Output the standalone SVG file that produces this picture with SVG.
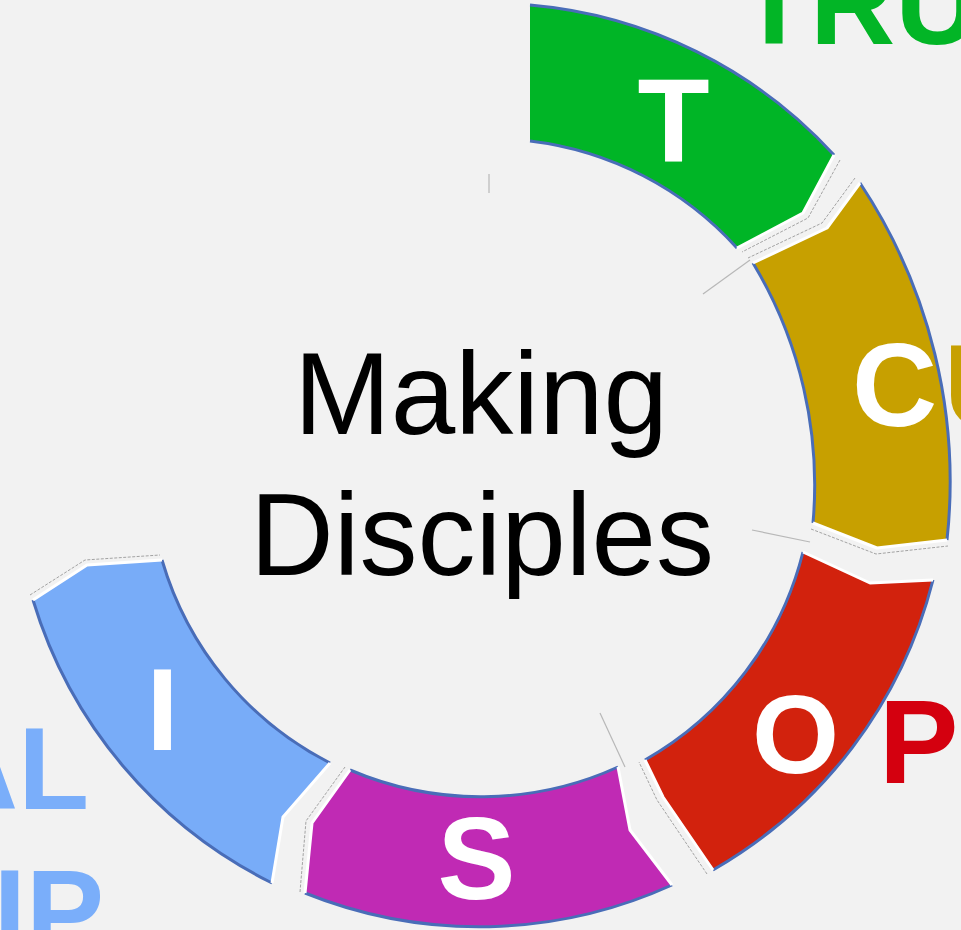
<svg xmlns="http://www.w3.org/2000/svg" width="961" height="930" viewBox="0 0 961 930">
<defs>
<style>
.rim{fill:none;stroke:#4a6db8;stroke-width:3}
.gap{fill:none;stroke:#ffffff;stroke-width:3;stroke-linejoin:round}
.gapl{fill:none;stroke:#9a9a9a;stroke-width:0.9;stroke-dasharray:3 1.5}
.let{font-family:"Liberation Sans",Arial,sans-serif;font-weight:bold;fill:#ffffff;text-anchor:middle}
.out{font-family:"Liberation Sans",Arial,sans-serif;font-weight:bold}
.ctr{font-family:"Liberation Sans",Arial,sans-serif;font-size:116px;fill:#000000;text-anchor:middle}
.stray{stroke:#b8b8b8;stroke-width:1.2;fill:none}
</style>
<filter id="soft" x="-5%" y="-5%" width="110%" height="110%"><feGaussianBlur stdDeviation="0.7"/></filter>
</defs>
<rect width="961" height="930" fill="#f2f2f2"/>

<g id="connectors">
<line class="stray" x1="489" y1="174" x2="489" y2="193"/>
<line class="stray" x1="703" y1="294" x2="750" y2="260"/>
<line class="stray" x1="752" y1="530" x2="810" y2="542"/>
<line class="stray" x1="600" y1="713" x2="625" y2="767"/>
</g>

<g id="seg-t">
<g filter="url(#soft)">
<path d="M530,5 A466,466 0 0 1 834,155 L803,213 L737,248 A332,332 0 0 0 530,141 Z" fill="#02b526"/>
<path class="rim" d="M530,5 A466,466 0 0 1 834,155"/>
<path class="rim" d="M737,248 A332,332 0 0 0 530,141"/>
<path class="gap" d="M834,155 L803,213 L737,248"/>
<path class="gapl" d="M840,160 L808,218 L742,252"/>
</g>
<text class="let" x="673.5" y="162" font-size="118">T</text>
</g>

<g id="seg-c">
<g filter="url(#soft)">
<path d="M860,183 L827,228 L753,263 A430,430 0 0 1 813,523 L877,548 L947,540 A540,540 0 0 0 860,183 Z" fill="#c7a002"/>
<path class="rim" d="M753,263 A430,430 0 0 1 813,523"/>
<path class="rim" d="M947,540 A540,540 0 0 0 860,183"/>
<path class="gap" d="M860,183 L827,228 L753,263"/>
<path class="gapl" d="M855,178 L822,223 L748,258"/>
<path class="gap" d="M813,523 L877,548 L947,540"/>
<path class="gapl" d="M811,529 L876,554 L948,546"/>
</g>
<text class="let" x="894.5" y="426" font-size="118">C</text>
</g>

<g id="seg-o">
<g filter="url(#soft)">
<path d="M803,552 L870,583 L933,580 A466,466 0 0 1 713,870 L663,797 L645,760 A332,332 0 0 0 803,552 Z" fill="#d2200e"/>
<path class="rim" d="M933,580 A466,466 0 0 1 713,870"/>
<path class="rim" d="M645,760 A332,332 0 0 0 803,552"/>
<path class="gap" d="M803,552 L870,583 L933,580"/>
<path class="gap" d="M713,870 L663,797 L645,760"/>
<path class="gapl" d="M707,874 L657,800 L639,762"/>
</g>
<text class="let" x="795.5" y="773" font-size="112">O</text>
</g>

<g id="seg-s">
<g filter="url(#soft)">
<path d="M618,767 L630,830 L672,885 A466,466 0 0 1 305,893 L312,823 L350,770 A332,332 0 0 0 618,767 Z" fill="#c02ab4"/>
<path class="rim" d="M672,885 A466,466 0 0 1 305,893"/>
<path class="rim" d="M350,770 A332,332 0 0 0 618,767"/>
<path class="gap" d="M618,767 L630,830 L672,885"/>
<path class="gap" d="M305,893 L312,823 L350,770"/>
<path class="gapl" d="M300,892 L306,821 L345,767"/>
</g>
<text class="let" x="476.5" y="899" font-size="117">S</text>
</g>

<g id="seg-i">
<g filter="url(#soft)">
<path d="M330,763 L283,817 L272,883 A466,466 0 0 1 33,600 L87,565 L162,560 A332,332 0 0 0 330,763 Z" fill="#78acf8"/>
<path class="rim" d="M272,883 A466,466 0 0 1 33,600"/>
<path class="rim" d="M162,560 A332,332 0 0 0 330,763"/>
<path class="gap" d="M330,763 L283,817 L272,883"/>
<path class="gap" d="M33,600 L87,565 L162,560"/>
<path class="gapl" d="M30,595 L85,560 L160,555"/>
</g>
<text class="let" x="162.5" y="750" font-size="117">I</text>
</g>

<g id="label-trust"><text class="out" x="738" y="44" font-size="118" fill="#02b526">TRU</text></g>
<g id="label-cu"><text class="out" x="944" y="426" font-size="117" fill="#c7a002">U</text></g>
<g id="label-op"><text class="out" x="879" y="783" font-size="119" fill="#d4000f">P</text></g>
<g id="label-al"><text class="out" x="89" y="809" font-size="116" fill="#7aaefa" text-anchor="end">AL</text></g>
<g id="label-ip"><text class="out" x="104" y="951" font-size="117" fill="#7aaefa" text-anchor="end">IP</text></g>

<g id="center">
<text class="ctr" x="481" y="434">Making</text>
<text class="ctr" x="482" y="575">Disciples</text>
</g>
</svg>
